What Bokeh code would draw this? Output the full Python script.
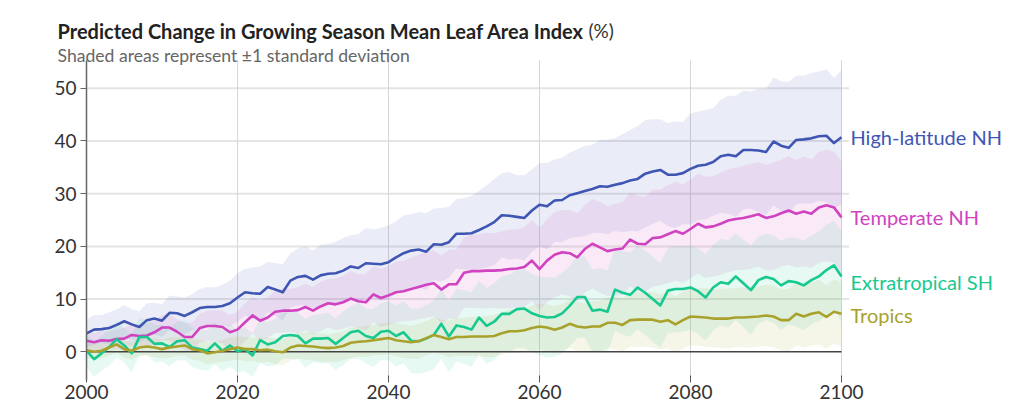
from bokeh.plotting import figure
from bokeh.models import Range1d, Label, FixedTicker
from bokeh.embed import file_html
from bokeh.resources import INLINE

years = list(range(2000, 2101))

# mean change (%) per year
high_nh = [3.5, 4.2, 4.3, 4.5, 5.1, 5.8, 5.2, 4.7, 6.0, 6.3,
           5.9, 7.4, 7.3, 6.8, 7.5, 8.3, 8.5, 8.5, 8.7, 9.2,
           10.3, 11.3, 11.1, 11.0, 12.3, 11.8, 11.3, 13.5, 14.2, 14.4,
           13.7, 14.5, 14.8, 14.9, 15.4, 16.2, 15.9, 16.8, 16.7, 16.6,
           17.0, 17.9, 18.7, 19.2, 19.4, 19.0, 20.4, 20.3, 20.8, 22.4,
           22.4, 22.5, 23.1, 23.8, 24.6, 25.9, 25.8, 25.6, 25.4, 26.8,
           27.9, 27.6, 28.7, 28.8, 29.7, 30.1, 30.5, 30.9, 31.4, 31.3,
           31.7, 32.0, 32.5, 32.8, 33.8, 34.2, 34.5, 33.6, 33.6, 33.9,
           34.7, 35.3, 35.5, 36.0, 37.1, 37.4, 37.1, 38.3, 38.3, 38.2,
           37.9, 39.9, 39.1, 38.7, 40.2, 40.3, 40.5, 40.9, 41.0, 39.6,
           40.7]
temperate_nh = [2.1, 1.8, 2.2, 2.1, 2.4, 2.5, 3.2, 3.0, 3.1, 3.7,
                4.6, 4.6, 3.8, 2.8, 2.8, 4.5, 4.9, 4.9, 4.7, 3.7,
                4.2, 5.6, 6.9, 5.9, 6.5, 7.6, 7.8, 7.8, 7.9, 8.5,
                7.8, 8.6, 9.2, 9.0, 9.4, 10.1, 9.6, 9.4, 10.9, 10.2,
                10.7, 11.3, 11.5, 11.9, 12.3, 12.7, 13.0, 11.8, 12.8, 12.8,
                15.0, 15.3, 15.3, 15.4, 15.4, 15.5, 15.7, 15.8, 16.1, 17.3,
                15.7, 17.3, 18.4, 18.9, 18.7, 17.9, 19.5, 20.5, 19.8, 19.1,
                19.4, 19.6, 21.3, 20.5, 20.4, 21.6, 21.7, 22.3, 22.9, 22.4,
                23.3, 24.3, 23.6, 23.8, 24.3, 24.9, 25.2, 25.4, 25.7, 26.1,
                25.4, 25.7, 26.3, 26.8, 26.2, 26.6, 26.2, 27.4, 27.8, 27.4,
                25.5]
extratropical_sh = [0.2, -1.4, -0.3, 0.9, 2.4, 1.2, -0.3, 2.8, 2.8, 1.5,
                    1.6, 0.9, 2.0, 2.2, 0.8, 0.5, 0.2, 1.6, 0.2, 1.2,
                    0.1, 0.5, -0.7, 2.2, 1.4, 1.8, 3.0, 3.2, 3.0, 1.6,
                    2.5, 2.5, 2.6, 1.5, 2.6, 3.7, 4.0, 3.0, 2.6, 3.8,
                    4.0, 3.0, 3.7, 2.1, 2.0, 2.5, 3.2, 5.3, 2.9, 5.0,
                    4.7, 4.2, 6.5, 4.9, 5.7, 7.2, 7.2, 8.1, 8.2, 7.3,
                    6.8, 6.5, 6.6, 7.3, 8.7, 10.4, 10.4, 7.8, 8.0, 7.6,
                    11.8, 11.2, 10.8, 12.2, 11.2, 10.0, 8.8, 11.6, 11.9, 11.9,
                    12.2, 11.5, 10.3, 12.2, 13.2, 12.9, 14.3, 13.0, 11.7, 13.6,
                    14.2, 13.8, 12.6, 13.4, 13.2, 12.6, 13.6, 14.3, 15.5, 16.4,
                    14.3]
tropics = [0.3, 0.0, 0.2, 0.8, 1.4, 0.5, 0.2, 0.8, 1.0, 0.8,
           0.5, 0.8, 1.0, 1.2, 0.5, 0.3, -0.3, -0.1, 0.2, 0.5,
           0.8, 0.5, 0.5, 0.3, 0.4, 0.1, -0.1, 0.8, 1.2, 1.1,
           1.0, 0.8, 0.7, 0.8, 1.1, 1.7, 1.9, 2.0, 2.2, 2.4,
           2.6, 2.2, 2.0, 1.8, 2.0, 2.6, 3.2, 2.8, 2.4, 2.8,
           2.8, 2.9, 2.9, 2.9, 3.0, 3.5, 3.9, 3.9, 4.1, 4.5,
           4.8, 4.6, 4.2, 4.6, 5.3, 4.8, 4.6, 4.8, 4.8, 5.5,
           5.5, 5.1, 6.0, 6.1, 6.1, 6.1, 5.7, 6.0, 5.2, 6.0,
           6.7, 6.6, 6.5, 6.3, 6.3, 6.3, 6.5, 6.5, 6.6, 6.7,
           6.9, 6.7, 6.0, 6.0, 7.2, 6.7, 7.2, 7.5, 6.6, 7.6,
           7.2]

# standard deviation per year
high_nh_sd = [2.6, 2.8, 2.7, 3.0, 2.9, 3.1, 2.8, 3.0, 3.2, 3.0,
              3.1, 3.3, 3.2, 3.5, 3.4, 3.6, 3.8, 3.7, 4.0, 4.3,
              4.6, 4.4, 4.9, 5.2, 4.8, 5.0, 5.3, 5.1, 5.4, 5.6,
              5.5, 5.8, 5.6, 6.0, 6.2, 5.9, 6.4, 6.7, 6.5, 6.9,
              7.0, 6.8, 7.2, 6.9, 7.1, 7.3, 6.8, 7.0, 6.7, 6.6,
              6.8, 7.1, 7.4, 7.8, 8.2, 8.0, 8.3, 7.9, 8.1, 7.8,
              7.9, 8.2, 7.8, 8.0, 8.1, 8.3, 8.6, 8.4, 8.8, 9.0,
              8.8, 9.3, 9.6, 10.0, 10.2, 9.9, 9.6, 9.8, 10.1, 9.7,
              10.5, 10.3, 10.4, 10.2, 10.7, 11.2, 11.5, 11.3, 11.1, 11.7,
              12.0, 12.1, 12.3, 12.5, 12.2, 12.1, 12.4, 12.3, 12.6, 12.4,
              12.7]
temperate_nh_sd = [1.6, 1.7, 1.8, 1.7, 1.9, 2.0, 2.1, 2.0, 2.2, 2.3,
                   2.4, 2.5, 2.4, 2.6, 2.8, 2.7, 2.9, 3.0, 3.1, 3.3,
                   3.4, 3.6, 3.5, 3.8, 3.9, 4.0, 4.2, 4.1, 4.3, 4.4,
                   4.5, 4.7, 4.6, 4.9, 5.0, 5.2, 5.1, 5.4, 5.3, 5.5,
                   5.6, 5.8, 5.7, 6.0, 6.1, 6.3, 6.2, 6.4, 6.5, 6.6,
                   6.7, 6.9, 7.0, 7.2, 7.1, 7.3, 7.5, 7.4, 7.6, 7.7,
                   7.8, 7.9, 8.1, 8.0, 8.2, 8.4, 8.3, 8.5, 8.6, 8.5,
                   8.7, 8.8, 8.9, 9.1, 9.0, 9.2, 9.1, 9.3, 9.4, 9.3,
                   9.4, 9.5, 9.6, 9.5, 9.7, 9.8, 9.7, 9.9, 10.0, 9.9,
                   10.0, 10.2, 10.1, 10.3, 10.2, 10.4, 10.3, 10.5, 10.6, 10.5,
                   10.6]
extratropical_sh_sd = [3.2, 3.4, 3.3, 3.5, 3.4, 3.3, 3.6, 3.5, 3.4, 3.6,
                       3.5, 3.7, 3.6, 3.8, 3.7, 3.9, 3.8, 4.0, 3.9, 4.1,
                       4.0, 4.2, 4.1, 4.3, 4.2, 4.4, 4.3, 4.5, 4.4, 4.6,
                       4.5, 4.7, 4.8, 4.9, 5.1, 5.0, 5.3, 5.2, 5.5, 5.4,
                       5.6, 5.8, 5.9, 6.1, 6.2, 6.4, 6.5, 6.6, 6.8, 6.9,
                       7.0, 7.1, 7.0, 7.2, 7.3, 7.2, 7.4, 7.3, 7.5, 7.4,
                       7.5, 7.6, 7.5, 7.7, 7.6, 7.8, 7.7, 7.8, 7.9, 7.8,
                       7.8, 7.9, 8.0, 7.9, 8.0, 8.1, 8.0, 8.1, 8.2, 8.1,
                       8.0, 8.1, 8.2, 8.1, 8.2, 8.3, 8.2, 8.3, 8.4, 8.3,
                       8.2, 8.3, 8.4, 8.3, 8.4, 8.5, 8.4, 8.5, 8.6, 8.5,
                       8.6]
tropics_sd = [1.4, 1.5, 1.4, 1.6, 1.5, 1.6, 1.7, 1.6, 1.7, 1.8,
              1.8, 1.9, 1.8, 1.9, 2.0, 2.0, 2.1, 2.0, 2.1, 2.2,
              2.2, 2.3, 2.2, 2.4, 2.3, 2.4, 2.5, 2.4, 2.5, 2.6,
              2.6, 2.7, 2.6, 2.8, 2.7, 2.9, 2.8, 3.0, 2.9, 3.0,
              3.0, 3.1, 3.2, 3.1, 3.3, 3.2, 3.4, 3.3, 3.5, 3.6,
              3.6, 3.7, 3.8, 3.9, 4.0, 3.9, 4.1, 4.2, 4.1, 4.3,
              4.3, 4.4, 4.5, 4.4, 4.6, 4.7, 4.6, 4.8, 4.9, 4.8,
              5.0, 5.1, 5.0, 5.2, 5.1, 5.3, 5.2, 5.4, 5.3, 5.4,
              5.5, 5.4, 5.6, 5.5, 5.6, 5.7, 5.6, 5.7, 5.8, 5.7,
              5.8, 5.9, 5.8, 5.9, 6.0, 5.9, 6.0, 6.1, 6.0, 6.1,
              6.1]

names = ['High-latitude NH', 'Temperate NH', 'Extratropical SH', 'Tropics']
y_ticks = [0, 10, 20, 30, 40, 50]
x_ticks = [2000, 2020, 2040, 2060, 2080, 2100]

title_txt = 'Predicted Change in Growing Season Mean Leaf Area Index'
unit_txt = '(%)'
subtitle_txt = 'Shaded areas represent \u00b11 standard deviation'

FONT = 'Lato'
PX_YR = 7.55    # px per year
PX_UNIT = 5.27  # px per %
LEFT = 50       # frame left edge in px
FRAME_W = 970
FRAME_H = 380
Y_LO, Y_HI = -5.45, 55.3   # visible part of the value axis

series = [
    (names[0], high_nh, high_nh_sd, '#3f55b3', 0),
    (names[1], temperate_nh, temperate_nh_sd, '#d042c0', 0),
    (names[2], extratropical_sh, extratropical_sh_sd, '#17c98f', -6),
    (names[3], tropics, tropics_sd, '#a8a22c', -1),
]

# frame covers title area and right-hand labels; y axis pinned at 2000
x0 = years[0] - (86 - LEFT) / PX_YR
y1 = Y_LO + FRAME_H / PX_UNIT
p = figure(frame_width=FRAME_W, frame_height=FRAME_H,
           min_border_left=LEFT, min_border_right=4,
           min_border_top=0, min_border_bottom=10,
           x_range=Range1d(x0, x0 + FRAME_W / PX_YR), y_range=Range1d(Y_LO, y1),
           output_backend='svg', toolbar_location=None)
p.outline_line_color = None
p.grid.visible = False

# grid lines
p.segment(x0=years[0], x1=years[-1] + 1, y0=y_ticks[1:], y1=y_ticks[1:],
          line_color='#e4e4e4', line_width=2)
p.segment(x0=x_ticks[1:], x1=x_ticks[1:], y0=Y_LO, y1=Y_HI,
          line_color='#d6d6d6', line_width=1)

# bands
for name, m, sd, col, _ in series:
    lo = [a - b for a, b in zip(m, sd)]
    hi = [a + b for a, b in zip(m, sd)]
    p.varea(x=years, y1=lo, y2=hi, fill_color=col, fill_alpha=0.11)

p.line(x=[years[0], years[-1]], y=[0, 0], line_color='#444444', line_width=1.6)

for name, m, sd, col, dy in series:
    p.line(x=years, y=m, line_color=col, line_width=2.6, line_join='round')
    p.add_layout(Label(x=years[-1], y=m[-1], text=name, x_offset=9, y_offset=dy,
                       text_baseline='middle', text_color=col,
                       text_font=FONT, text_font_size='20px'))

# axes
p.xaxis.ticker = FixedTicker(ticks=x_ticks)
p.yaxis.ticker = FixedTicker(ticks=y_ticks)
p.yaxis.fixed_location = years[0]
p.yaxis.bounds = (Y_LO, Y_HI)
p.xaxis.axis_line_color = None
p.xaxis.major_tick_in = 5
p.xaxis.major_tick_out = 2
p.xaxis.major_tick_line_color = '#555555'
p.xaxis.minor_tick_line_color = None
p.xaxis.major_label_standoff = 2
p.yaxis.axis_line_color = '#666666'
p.yaxis.axis_line_width = 1.5
p.yaxis.major_tick_in = 0
p.yaxis.major_tick_out = 6
p.yaxis.major_tick_line_color = '#666666'
p.yaxis.minor_tick_line_color = None
p.yaxis.major_label_standoff = 4
for ax in (p.xaxis, p.yaxis):
    ax.major_label_text_font = FONT
    ax.major_label_text_font_size = '19px'
    ax.major_label_text_color = '#333333'

# title and subtitle
p.add_layout(Label(x=years[0], y=y1, x_offset=-29, y_offset=-30, text=title_txt,
                   text_font=FONT, text_font_style='bold', text_font_size='20px',
                   text_color='#222222', text_baseline='alphabetic'))
p.add_layout(Label(x=years[0], y=y1, x_offset=502, y_offset=-30, text=unit_txt,
                   text_font=FONT, text_font_size='19px',
                   text_color='#333333', text_baseline='alphabetic'))
p.add_layout(Label(x=years[0], y=y1, x_offset=-29, y_offset=-55, text=subtitle_txt,
                   text_font=FONT, text_font_size='17.6px',
                   text_color='#666666', text_baseline='alphabetic'))

open('out.html', 'w').write(file_html(p, INLINE))
